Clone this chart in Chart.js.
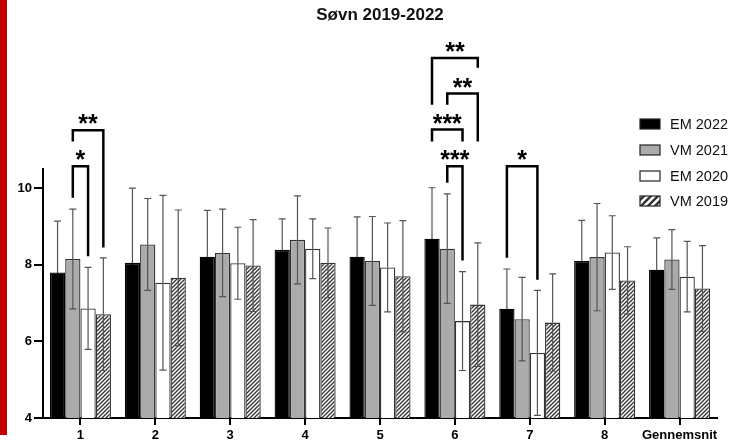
<!DOCTYPE html>
<html>
<head>
<meta charset="utf-8">
<script src="https://cdn.jsdelivr.net/npm/chart.js@4"></script>
<style>
html, body { margin: 0; padding: 0; background: #fff; }
#wrap { width: 747px; height: 445px; position: relative; }
</style>
</head>
<body>
<div id="wrap"><canvas id="chart"></canvas></div>
<script>
// data
const categories = ["1", "2", "3", "4", "5", "6", "7", "8", "Gennemsnit"];
const seriesNames = ["EM 2022", "VM 2021", "EM 2020", "VM 2019"];

const em2022 = [7.80, 8.05, 8.21, 8.39, 8.21, 8.68, 6.85, 8.10, 7.87];
const em2022Sd = [1.34, 1.95, 1.21, 0.81, 1.04, 1.33, 1.04, 1.06, 0.83];
const vm2021 = [8.15, 8.53, 8.31, 8.65, 8.10, 8.42, 6.58, 8.20, 8.14];
const vm2021Sd = [1.30, 1.20, 1.14, 1.15, 1.16, 1.43, 1.09, 1.40, 0.78];
const em2020 = [6.86, 7.53, 8.04, 8.42, 7.93, 6.53, 5.70, 8.32, 7.69];
const em2020Sd = [1.07, 2.28, 0.94, 0.78, 1.16, 1.29, 1.63, 0.96, 0.92];
const vm2019 = [6.71, 7.66, 7.98, 8.05, 7.70, 6.96, 6.49, 7.59, 7.38];
const vm2019Sd = [1.47, 1.77, 1.20, 0.91, 1.45, 1.61, 1.27, 0.88, 1.12];

const yTicks = [4, 6, 8, 10];

// significance brackets: category, first bar, second bar, label, top and leg ends (in y units)
const sigCats = [0, 0, 5, 5, 5, 5, 6];
const sigFrom = [1, 1, 0, 1, 0, 1, 0];
const sigTo = [2, 3, 3, 3, 2, 2, 2];
const sigLabels = ["*", "**", "**", "**", "***", "***", "*"];
const sigTop = [10.57, 11.51, 13.40, 12.47, 11.53, 10.57, 10.57];
const sigLeftEnd = [9.75, 11.22, 12.18, 12.18, 11.22, 10.14, 8.18];
const sigRightEnd = [8.22, 8.45, 13.14, 11.22, 11.22, 8.11, 7.61];

const FONT = "'Liberation Sans', Arial, Helvetica, sans-serif";
const canvas = document.getElementById("chart");
const ctx = canvas.getContext("2d");

function lagHatch(size, width) {
  const c = document.createElement("canvas");
  c.width = size;
  c.height = size;
  const g = c.getContext("2d");
  g.fillStyle = "#fff";
  g.fillRect(0, 0, size, size);
  g.strokeStyle = "#333";
  g.lineWidth = width;
  g.beginPath();
  g.moveTo(0, size); g.lineTo(size, 0);
  g.moveTo(-1, 1); g.lineTo(1, -1);
  g.moveTo(size - 1, size + 1); g.lineTo(size + 1, size - 1);
  g.stroke();
  return ctx.createPattern(c, "repeat");
}

const hatch = lagHatch(4, 1.3);
const hatchLegend = lagHatch(7, 2.4);

const sdList = [em2022Sd, vm2021Sd, em2020Sd, vm2019Sd];

const fejlPlugin = {
  id: "fejl",
  afterDatasetsDraw(chart) {
    const y = chart.scales.y;
    const c = chart.ctx;
    c.save();
    c.lineWidth = 1.2;
    chart.data.datasets.forEach((ds, i) => {
      const meta = chart.getDatasetMeta(i);
      meta.data.forEach((bar, j) => {
        const v = ds.data[j];
        const sd = sdList[i][j];
        const yt = y.getPixelForValue(v + sd);
        const yb = y.getPixelForValue(v - sd);
        c.strokeStyle = "#555";
        c.beginPath();
        c.moveTo(bar.x, yt); c.lineTo(bar.x, bar.y);
        c.moveTo(bar.x - 3.5, yt); c.lineTo(bar.x + 3.5, yt);
        c.stroke();
        // lower whisker disappears inside the black bars
        c.strokeStyle = i === 0 ? "#000" : "#555";
        c.beginPath();
        c.moveTo(bar.x, bar.y); c.lineTo(bar.x, yb);
        c.moveTo(bar.x - 3.5, yb); c.lineTo(bar.x + 3.5, yb);
        c.stroke();
      });
    });
    c.restore();
  },
};

const pyntPlugin = {
  id: "pynt",
  beforeDraw(chart) {
    const c = chart.ctx;
    c.save();
    c.fillStyle = "#fff";
    c.fillRect(0, 0, chart.width, chart.height);
    c.fillStyle = "#c40000";
    c.fillRect(0, 0, 7, 435);
    c.restore();
  },
  afterDraw(chart) {
    const c = chart.ctx;
    const y = chart.scales.y;
    const area = chart.chartArea;
    c.save();

    // title
    c.fillStyle = "#111";
    c.font = "bold 17px " + FONT;
    c.textAlign = "center";
    c.textBaseline = "middle";
    c.fillText("Søvn 2019-2022", (area.left + area.right) / 2, 15);

    // brackets
    c.strokeStyle = "#000";
    c.lineWidth = 2.5;
    c.lineJoin = "miter";
    c.font = "bold 25px " + FONT;
    c.textBaseline = "alphabetic";
    for (let k = 0; k < sigCats.length; k++) {
      const xa = chart.getDatasetMeta(sigFrom[k]).data[sigCats[k]].x;
      const xb = chart.getDatasetMeta(sigTo[k]).data[sigCats[k]].x;
      const yt = y.getPixelForValue(sigTop[k]);
      c.beginPath();
      c.moveTo(xa, y.getPixelForValue(sigLeftEnd[k]));
      c.lineTo(xa, yt);
      c.lineTo(xb, yt);
      c.lineTo(xb, y.getPixelForValue(sigRightEnd[k]));
      c.stroke();
      c.fillStyle = "#000";
      c.fillText(sigLabels[k], (xa + xb) / 2, yt + 2);
    }

    // legend
    c.font = "14.5px " + FONT;
    c.textAlign = "left";
    c.textBaseline = "middle";
    const fills = ["#000", "#ababab", "#fff", hatchLegend];
    const rows = [124, 150, 176, 201];
    for (let i = 0; i < seriesNames.length; i++) {
      c.fillStyle = fills[i];
      c.fillRect(640, rows[i] - 5, 20, 10);
      c.strokeStyle = "#222";
      c.lineWidth = 1.2;
      c.strokeRect(640, rows[i] - 5, 20, 10);
      c.fillStyle = "#111";
      c.fillText(seriesNames[i], 670, rows[i] + 1);
    }
    c.restore();
  },
};

function lagSerie(i, data, fill, border) {
  return {
    label: seriesNames[i],
    data: data,
    backgroundColor: fill,
    borderColor: border,
    borderWidth: 1.3,
    borderSkipped: false,
    categoryPercentage: 0.815,
    barPercentage: 1.0,
  };
}

new Chart(canvas, {
  type: "bar",
  data: {
    labels: categories,
    datasets: [
      lagSerie(0, em2022, "#000", "#000"),
      lagSerie(1, vm2021, "#ababab", "#333"),
      lagSerie(2, em2020, "#fff", "#333"),
      lagSerie(3, vm2019, hatch, "#333"),
    ],
  },
  options: {
    responsive: true,
    maintainAspectRatio: false,
    devicePixelRatio: 1,
    animation: false,
    layout: { padding: { top: 169, right: 30, left: 0, bottom: 0 } },
    plugins: {
      legend: { display: false },
      title: { display: false },
      tooltip: { enabled: false },
    },
    scales: {
      x: {
        afterFit: (s) => { s.height = 27; },
        border: { color: "#000", width: 2 },
        grid: {
          offset: false,
          drawOnChartArea: false,
          drawTicks: true,
          tickLength: 7,
          color: "#000",
          lineWidth: 2,
        },
        ticks: {
          color: "#000",
          padding: 3,
          autoSkip: false,
          maxRotation: 0,
          font: { family: FONT, size: 13, weight: "bold" },
        },
      },
      y: {
        min: 4,
        max: 10.5,
        afterFit: (s) => { s.width = 43; },
        afterBuildTicks: (s) => { s.ticks = yTicks.map((v) => ({ value: v })); },
        border: { color: "#000", width: 2 },
        grid: {
          drawOnChartArea: false,
          drawTicks: true,
          tickLength: 9,
          color: "#000",
          lineWidth: 2,
        },
        ticks: {
          color: "#000",
          padding: 2,
          font: { family: FONT, size: 13, weight: "bold" },
        },
      },
    },
  },
  plugins: [pyntPlugin, fejlPlugin],
});
</script>
</body>
</html>
